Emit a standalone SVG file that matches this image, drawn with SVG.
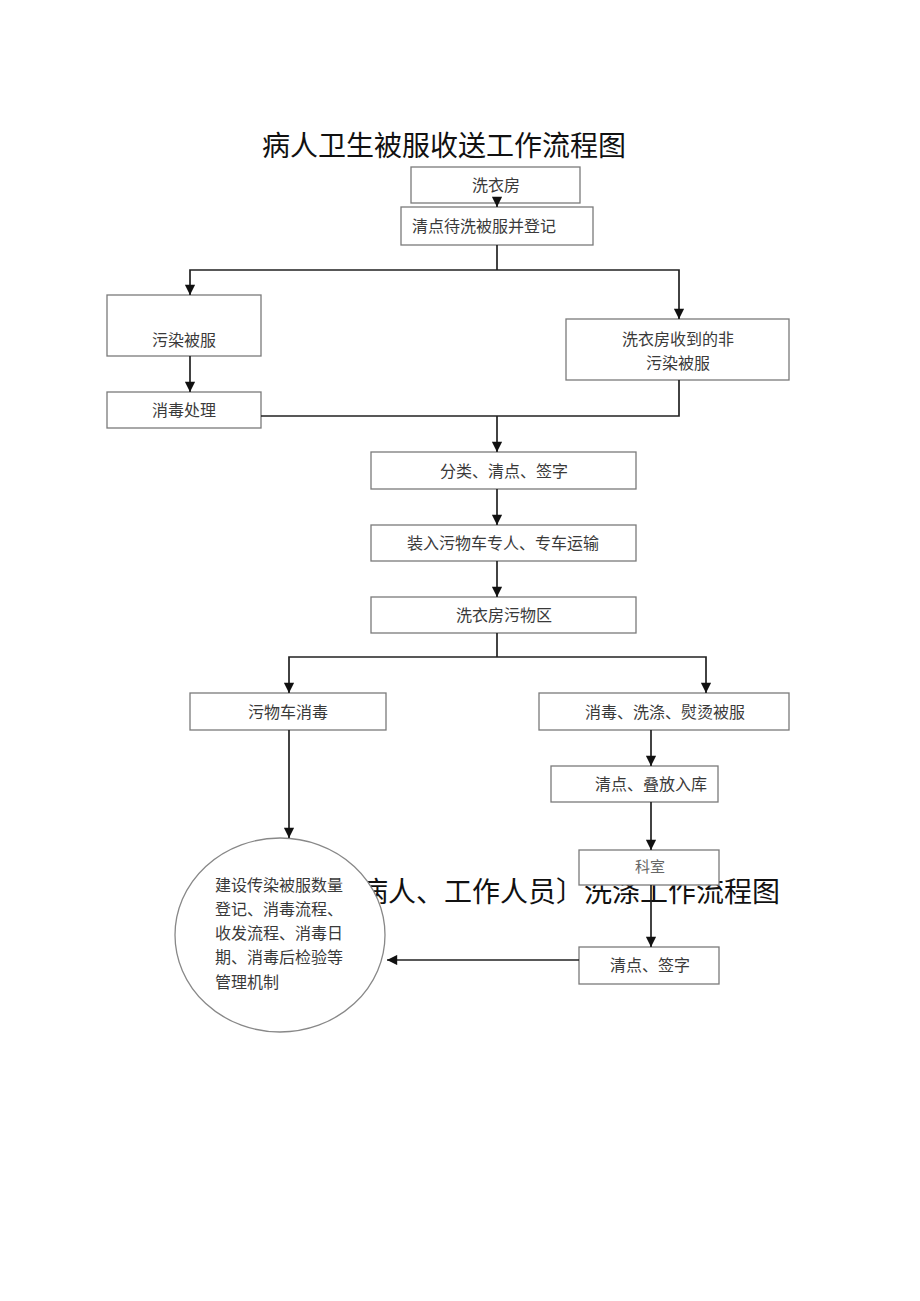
<svg xmlns="http://www.w3.org/2000/svg" width="920" height="1301" viewBox="0 0 920 1301">
<style>
.title{font-family:"Noto Sans CJK SC","Noto Sans",sans-serif;font-size:28px;fill:#111}
.box{fill:#fff;stroke:#7a7a7a;stroke-width:1.3}
.t{font-family:"Noto Sans CJK SC","Noto Sans",sans-serif;font-size:16px;fill:#3a3a3a}
.c{text-anchor:middle}
.ln{fill:none;stroke:#222;stroke-width:1.7}
</style>
<defs>
<marker id="ah" viewBox="0 0 10 10" refX="10" refY="5" markerWidth="7" markerHeight="6" orient="auto" markerUnits="strokeWidth">
<path d="M0,0 L10,5 L0,10 z" fill="#111"/>
</marker>
</defs>
<rect width="920" height="1301" fill="#fff"/>
<text class="title" x="262" y="156">病人卫生被服收送工作流程图</text>
<text class="title" x="360" y="902">病人、工作人员〕洗涤工作流程图</text>

<g id="n1"><rect class="box" x="411" y="167" width="169" height="36"/><text class="t c" x="496" y="191">洗衣房</text></g>
<g id="n2"><rect class="box" x="401" y="207" width="192" height="38"/><text class="t" x="412" y="232">清点待洗被服并登记</text></g>
<g id="n3"><rect class="box" x="107" y="295" width="154" height="61"/><text class="t c" x="184" y="346">污染被服</text></g>
<g id="n4"><rect class="box" x="566" y="319" width="223" height="61"/><text class="t c" x="678" y="345">洗衣房收到的非</text><text class="t c" x="678" y="369">污染被服</text></g>
<g id="n5"><rect class="box" x="107" y="392" width="154" height="36"/><text class="t c" x="184" y="416">消毒处理</text></g>
<g id="n6"><rect class="box" x="371" y="452" width="265" height="37"/><text class="t c" x="504" y="477">分类、清点、签字</text></g>
<g id="n7"><rect class="box" x="371" y="525" width="265" height="36"/><text class="t c" x="503" y="549">装入污物车专人、专车运输</text></g>
<g id="n8"><rect class="box" x="371" y="597" width="265" height="36"/><text class="t c" x="504" y="621">洗衣房污物区</text></g>
<g id="n9"><rect class="box" x="190" y="693" width="196" height="37"/><text class="t c" x="288" y="718">污物车消毒</text></g>
<g id="n10"><rect class="box" x="539" y="693" width="250" height="37"/><text class="t c" x="665" y="718">消毒、洗涤、熨烫被服</text></g>
<g id="n11"><rect class="box" x="551" y="766" width="167" height="36"/><text class="t" x="595" y="790">清点、叠放入库</text></g>
<g id="n12"><rect class="box" x="579" y="850" width="140" height="35"/><text class="t c" x="650" y="872" style="font-size:15px;fill:#666">科室</text></g>
<g id="n13"><rect class="box" x="579" y="947" width="140" height="37"/><text class="t c" x="650" y="971">清点、签字</text></g>
<g id="n14"><ellipse cx="280" cy="935" rx="105" ry="97" fill="#fff" stroke="#888" stroke-width="1.3"/>
<text class="t" x="215" y="891">建设传染被服数量</text>
<text class="t" x="215" y="915">登记、消毒流程、</text>
<text class="t" x="215" y="939">收发流程、消毒日</text>
<text class="t" x="215" y="963">期、消毒后检验等</text>
<text class="t" x="215" y="988">管理机制</text>
</g>

<g id="connectors">
<line class="ln" x1="497" y1="203" x2="497" y2="207" marker-end="url(#ah)"/>
<polyline class="ln" points="497,245 497,270"/>
<polyline class="ln" points="497,270 190,270 190,295" marker-end="url(#ah)"/>
<polyline class="ln" points="497,270 679,270 679,319" marker-end="url(#ah)"/>
<line class="ln" x1="190" y1="356" x2="190" y2="392" marker-end="url(#ah)"/>
<polyline class="ln" points="261,416 679,416 679,380"/>
<line class="ln" x1="497" y1="416" x2="497" y2="452" marker-end="url(#ah)"/>
<line class="ln" x1="497" y1="489" x2="497" y2="525" marker-end="url(#ah)"/>
<line class="ln" x1="497" y1="561" x2="497" y2="597" marker-end="url(#ah)"/>
<polyline class="ln" points="497,633 497,657"/>
<polyline class="ln" points="497,657 289,657 289,693" marker-end="url(#ah)"/>
<polyline class="ln" points="497,657 706,657 706,693" marker-end="url(#ah)"/>
<line class="ln" x1="651" y1="730" x2="651" y2="766" marker-end="url(#ah)"/>
<line class="ln" x1="651" y1="802" x2="651" y2="850" marker-end="url(#ah)"/>
<line class="ln" x1="651" y1="885" x2="651" y2="947" marker-end="url(#ah)"/>
<line class="ln" x1="289" y1="730" x2="289" y2="838" marker-end="url(#ah)"/>
<line class="ln" x1="579" y1="960" x2="387" y2="960" marker-end="url(#ah)"/>
</g>
</svg>
